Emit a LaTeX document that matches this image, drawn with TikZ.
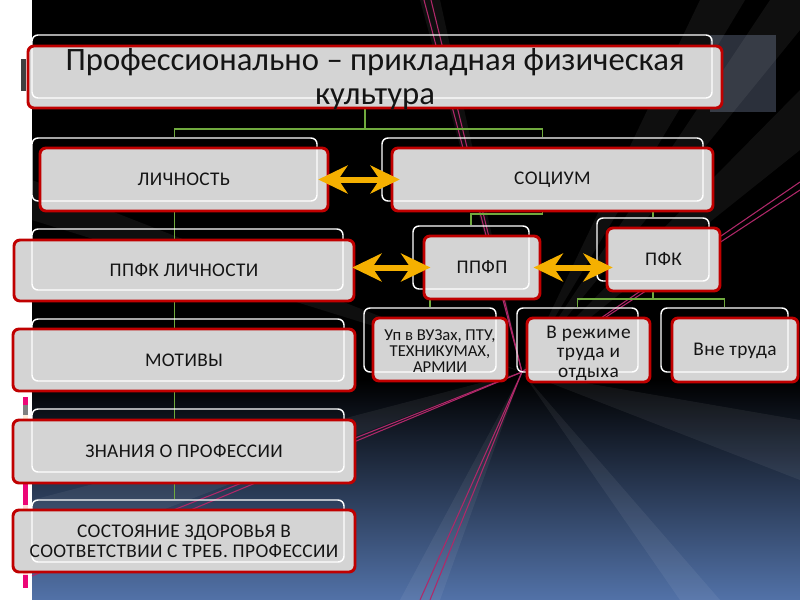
\documentclass[tikz,border=0pt]{standalone}
\usepackage{fontspec}
\setmainfont{Carlito}
\usetikzlibrary{fit,arrows.meta,backgrounds}
\definecolor{boxgray}{RGB}{212,212,212}
\definecolor{bred}{RGB}{192,0,0}
\definecolor{lgreen}{RGB}{112,170,62}
\definecolor{ayellow}{RGB}{245,176,0}
\definecolor{bgblue}{RGB}{82,114,168}
\definecolor{pinkline}{RGB}{175,40,105}
\definecolor{txtdark}{RGB}{20,20,20}
\definecolor{graypanel}{RGB}{43,48,59}
\newcommand{\snode}[5]{%
  \node[rfill, fit={#2}] (#1) {};
  \node[wbox, fit={#3}] (#1w) {};
  \node[rborder, fit={#2}] (#1b) {};
  \node[lbl, #4] (#1t) at (#1.center) {#5};
}
\begin{document}
\begin{tikzpicture}[x=0.75pt,y=-0.75pt,
  rfill/.style={fill=boxgray, rounded corners=4.5pt, inner sep=0pt},
  wbox/.style={draw=white, line width=1.1pt, rounded corners=4.5pt, inner sep=0pt},
  rborder/.style={draw=bred, line width=2.2pt, rounded corners=4.5pt, inner sep=0pt},
  lbl/.style={text=txtdark, align=center, inner sep=0pt, anchor=center,
     font=\fontsize{14.5}{15}\selectfont\addfontfeature{LetterSpace=2}},
  conn/.style={draw=lgreen, line width=1.4pt},
  yarr/.style={draw=ayellow, line width=4.5pt,
     {Stealth[length=22pt,width=21pt,inset=7pt]}-{Stealth[length=22pt,width=21pt,inset=7pt]}},
  ray/.style={fill=white, opacity=0.06},
  pl/.style={draw=pinkline, line width=0.8pt}
]
\useasboundingbox (0,0) rectangle (800,600);
\begin{scope}[on background layer]
  \fill[white] (0,0) rectangle (800,600);
  \fill[black] (32,0) rectangle (800,382);
  \shade[top color=black, bottom color=bgblue] (32,380) rectangle (800,600);
  \fill[graypanel] (710,35) rectangle (776,112);
  % light rays from the vanishing point
  \coordinate (vp) at (522,372);
  \fill[ray] (vp) -- (700,0) -- (745,0) -- cycle;
  \fill[ray] (vp) -- (770,0) -- (800,0) -- (800,30) -- cycle;
  \fill[ray] (vp) -- (800,90) -- (800,150) -- cycle;
  \fill[ray] (vp) -- (800,420) -- (800,480) -- cycle;
  \fill[ray] (vp) -- (680,600) -- (720,600) -- cycle;
  \fill[ray] (vp) -- (400,600) -- (440,600) -- cycle;
  \fill[ray] (vp) -- (32,500) -- (32,560) -- cycle;
  \fill[ray] (vp) -- (32,180) -- (32,220) -- cycle;
  \fill[ray] (vp) -- (420,0) -- (440,0) -- cycle;
  % pink double lines
  \draw[pl] (vp) -- (424,0);  \draw[pl] (vp) -- (431,0);
  \draw[pl] (vp) -- (420,600); \draw[pl] (vp) -- (430,600);
  \draw[pl] (vp) -- (32,566);  \draw[pl] (vp) -- (32,576);
  \draw[pl] (vp) -- (800,182); \draw[pl] (vp) -- (800,190);
  % left strip decorations
  \fill[black!75] (21,59) rectangle (26,91);
  \fill[magenta!80!red] (23,397) rectangle (28,588);
  \fill[gray] (23,405) rectangle (28,415);
  \fill[orange!15] (23,415) rectangle (28,440);
  \fill[pink!60] (23,440) rectangle (28,475);
  \fill[pink!60] (23,505) rectangle (28,575);
\end{scope}

% nodes
\snode{title}{(28,46) (722,108)}{(32,35) (712,98)}{font=\fontsize{24.5}{25}\selectfont, yshift=-1.5pt}{Профессионально – прикладная физическая\\культура}
\snode{lich}{(40,148) (328,211)}{(32,138) (317,201)}{}{ЛИЧНОСТЬ}
\snode{soc}{(392,148) (713,211)}{(382,138) (703,201)}{}{СОЦИУМ}
\snode{ppfk}{(14,240) (354,301)}{(32,229) (343,290)}{}{ППФК ЛИЧНОСТИ}
\snode{motiv}{(13,329) (355,391)}{(32,319) (344,381)}{}{МОТИВЫ}
\snode{znan}{(13,420) (355,483)}{(32,409) (344,472)}{}{ЗНАНИЯ О ПРОФЕССИИ}
\snode{sost}{(13,510) (355,572)}{(32,500) (344,562)}{}{СОСТОЯНИЕ ЗДОРОВЬЯ В\\СООТВЕТСТВИИ С ТРЕБ. ПРОФЕССИИ}
\snode{ppfp}{(424,236) (540,299)}{(413,226) (529,289)}{}{ППФП}
\snode{pfk}{(607,228) (720,291)}{(597,218) (709,281)}{}{ПФК}
\snode{up}{(373,318) (507,381)}{(364,308) (496,372)}{font=\fontsize{12.5}{12}\selectfont, yshift=-1.5pt}{Уп в ВУЗах, ПТУ,\\ТЕХНИКУМАХ,\\АРМИИ}
\snode{rez}{(527,318) (650,382)}{(517,308) (638,372)}{font=\fontsize{14.5}{14.5}\selectfont\addfontfeature{LetterSpace=3}, yshift=-2.5pt}{В режиме\\труда и\\отдыха}
\snode{vne}{(672,318) (798,382)}{(661,308) (788,372)}{yshift=-1pt}{Вне труда}

% connectors (under the boxes)
\begin{scope}[on background layer]
  \coordinate (tj) at (365,129);
  \draw[conn] (tj |- title.south) -- (tj);
  \draw[conn] (tj) -| (lichw.north);
  \draw[conn] (tj) -| (socw.north);
  \draw[conn] (lichw.south) -- (lichw.south |- sostw.north);
  \draw[conn] (socw.south) -- ++(0,12.5) -| (ppfpw.north);
  \draw[conn] (socw.south) -- ++(0,8.5) -| (pfkw.north);
  \draw[conn] (ppfpw.south) -- ++(0,9.5) -| (upw.north);
  \draw[conn] (pfkw.south) -- ++(0,17) -| (rezw.north);
  \draw[conn] (pfkw.south) -- ++(0,17) -| (vnew.north);
\end{scope}

% double arrows
\draw[yarr, shorten <=-7.5pt, shorten >=-6pt] (lich.east) -- (soc.west);
\draw[yarr, shorten <=-1.5pt, shorten >=-5pt] (ppfk.east |- ppfp.west) -- (ppfp.west);
\draw[yarr, shorten <=-5pt, shorten >=-4.5pt] (ppfp.east) -- (pfk.west |- ppfp.east);
\end{tikzpicture}
\end{document}
